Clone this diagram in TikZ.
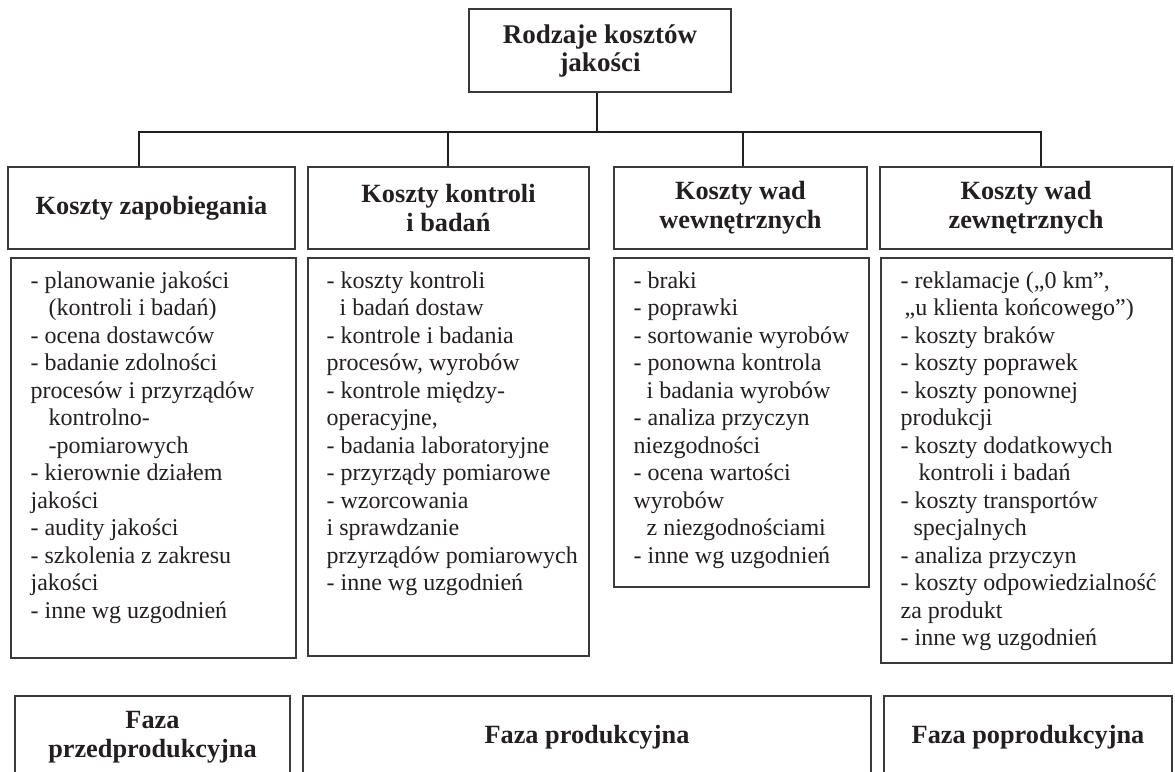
\documentclass[tikz,border=0pt]{standalone}
\usepackage{fontspec}
\setmainfont{Liberation Serif}
\definecolor{ink}{HTML}{231F20}
\definecolor{boxc}{HTML}{3A3A3A}
\tikzset{
  box/.style={draw=boxc, line width=1.2pt, inner sep=0pt, text=ink},
  hdr/.style={box, align=center, font=\fontsize{26.3}{29}\selectfont\bfseries},
  lst/.style={anchor=base west, inner sep=0pt, text=ink, font=\fontsize{24}{27.5}\selectfont},
  conn/.style={draw=ink, line width=2.6pt},
}
\newcommand{\ind}[1]{\hspace*{#1pt}}
\begin{document}
\begin{tikzpicture}[x=1pt,y=-1pt]
\useasboundingbox (0,0) rectangle (1175,771);
\clip (0,0) rectangle (1175,771);
% top
\node[hdr, font=\fontsize{27}{28}\selectfont\bfseries, minimum width=262, minimum height=83] (top) at (600,50.5) {Rodzaje kosztów\\jakości};
% headers
\node[hdr, minimum width=287, minimum height=82] (h1) at (151.5,208) {Koszty zapobiegania};
\node[hdr, minimum width=281, minimum height=82] (h2) at (448.5,208) {Koszty kontroli\\i badań};
\node[hdr, minimum width=253, minimum height=82] (h3) at (740.5,208) {Koszty wad\\wewnętrznych};
\node[hdr, minimum width=292, minimum height=82] (h4) at (1026,208) {Koszty wad\\zewnętrznych};
% connectors
\coordinate (bus) at (597,132);
\coordinate (d1) at (139,132);
\coordinate (d2) at (448,132);
\coordinate (d3) at (743,132);
\coordinate (d4) at (1041,132);
\draw[conn] (top.south -| bus) -- (bus);
\draw[conn] (d1 |- h1.north) -- (d1) -- (d4) -- (d4 |- h4.north);
\draw[conn] (d2) -- (d2 |- h2.north);
\draw[conn] (d3) -- (d3 |- h3.north);
% list boxes
\node[box, minimum width=285, minimum height=400] (l1) at (153.5,458) {};
\node[box, minimum width=281, minimum height=398] (l2) at (448.5,457) {};
\node[box, minimum width=255, minimum height=329] (l3) at (741.5,422.5) {};
\node[box, minimum width=291, minimum height=405] (l4) at (1026.5,460.5) {};
\node[lst] (t1) at ([xshift=20pt,yshift=-31pt]l1.north west) {\begin{tabular}[t]{@{}l@{}}
- planowanie jakości\\
\ind{18}(kontroli i badań)\\
- ocena dostawców\\
- badanie zdolności\\
procesów i przyrządów\\
\ind{18}kontrolno-\\
\ind{18}-pomiarowych\\
- kierownie działem\\
jakości\\
- audity jakości\\
- szkolenia z zakresu\\
jakości\\
- inne wg uzgodnień
\end{tabular}};
\node[lst] (t2) at ([xshift=19pt,yshift=-31pt]l2.north west) {\begin{tabular}[t]{@{}l@{}}
- koszty kontroli\\
\ind{13}i badań dostaw\\
- kontrole i badania\\
procesów, wyrobów\\
- kontrole między-\\
operacyjne,\\
- badania laboratoryjne\\
- przyrządy pomiarowe\\
- wzorcowania\\
i sprawdzanie\\
przyrządów pomiarowych\\
- inne wg uzgodnień
\end{tabular}};
\node[lst] (t3) at ([xshift=20pt,yshift=-31pt]l3.north west) {\begin{tabular}[t]{@{}l@{}}
- braki\\
- poprawki\\
- sortowanie wyrobów\\
- ponowna kontrola\\
\ind{13}i badania wyrobów\\
- analiza przyczyn\\
niezgodności\\
- ocena wartości\\
wyrobów\\
\ind{13}z niezgodnościami\\
- inne wg uzgodnień
\end{tabular}};
\node[lst] (t4) at ([xshift=20pt,yshift=-31pt]l4.north west) {\begin{tabular}[t]{@{}l@{}}
- reklamacje („0 km”,\\
\ind{4}„u klienta końcowego”)\\
- koszty braków\\
- koszty poprawek\\
- koszty ponownej\\
produkcji\\
- koszty dodatkowych\\
\ind{18}kontroli i badań\\
- koszty transportów\\
\ind{13}specjalnych\\
- analiza przyczyn\\
- koszty odpowiedzialność\\
za produkt\\
- inne wg uzgodnień
\end{tabular}};
% bottom phases
\node[hdr, minimum width=275, minimum height=82] (f1) at (152.5,737) {Faza\\przedprodukcyjna};
\node[hdr, minimum width=568, minimum height=82] (f2) at (587,737) {Faza produkcyjna};
\node[hdr, minimum width=288, minimum height=82] (f3) at (1028,737) {Faza poprodukcyjna};
\end{tikzpicture}
\end{document}
